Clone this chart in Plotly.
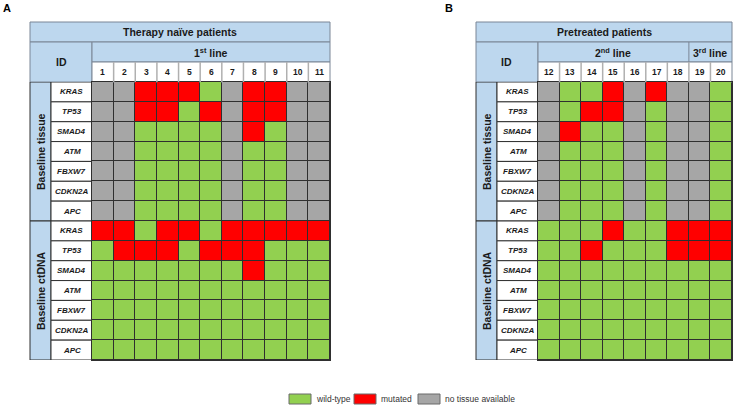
import plotly.graph_objects as go

# ---------------- data ----------------
genes = ["KRAS", "TP53", "SMAD4", "ATM", "FBXW7", "CDKN2A", "APC"]
status_labels = ["wild-type", "mutated", "no tissue available"]  # codes 0,1,2

patients_a = ["1", "2", "3", "4", "5", "6", "7", "8", "9", "10", "11"]
tissue_a = [
    [2, 2, 1, 1, 1, 0, 2, 1, 1, 2, 2],  # KRAS
    [2, 2, 1, 1, 0, 1, 2, 1, 1, 2, 2],  # TP53
    [2, 2, 0, 0, 0, 0, 2, 1, 0, 2, 2],  # SMAD4
    [2, 2, 0, 0, 0, 0, 2, 0, 0, 2, 2],  # ATM
    [2, 2, 0, 0, 0, 0, 2, 0, 0, 2, 2],  # FBXW7
    [2, 2, 0, 0, 0, 0, 2, 0, 0, 2, 2],  # CDKN2A
    [2, 2, 0, 0, 0, 0, 2, 0, 0, 2, 2],  # APC
]
ctdna_a = [
    [1, 1, 0, 1, 1, 0, 1, 1, 1, 1, 1],  # KRAS
    [0, 1, 1, 1, 0, 1, 1, 1, 0, 0, 0],  # TP53
    [0, 0, 0, 0, 0, 0, 0, 1, 0, 0, 0],  # SMAD4
    [0, 0, 0, 0, 0, 0, 0, 0, 0, 0, 0],  # ATM
    [0, 0, 0, 0, 0, 0, 0, 0, 0, 0, 0],  # FBXW7
    [0, 0, 0, 0, 0, 0, 0, 0, 0, 0, 0],  # CDKN2A
    [0, 0, 0, 0, 0, 0, 0, 0, 0, 0, 0],  # APC
]
lines_a = [("1<sup>st</sup> line", 0, 10)]

patients_b = ["12", "13", "14", "15", "16", "17", "18", "19", "20"]
tissue_b = [
    [2, 0, 0, 1, 2, 1, 2, 2, 0],  # KRAS
    [2, 0, 1, 1, 2, 0, 2, 2, 0],  # TP53
    [2, 1, 0, 0, 2, 0, 2, 2, 0],  # SMAD4
    [2, 0, 0, 0, 2, 0, 2, 2, 0],  # ATM
    [2, 0, 0, 0, 2, 0, 2, 2, 0],  # FBXW7
    [2, 0, 0, 0, 2, 0, 2, 2, 0],  # CDKN2A
    [2, 0, 0, 0, 2, 0, 2, 2, 0],  # APC
]
ctdna_b = [
    [0, 0, 0, 1, 0, 0, 1, 1, 1],  # KRAS
    [0, 0, 1, 0, 0, 0, 1, 1, 1],  # TP53
    [0, 0, 0, 0, 0, 0, 0, 0, 0],  # SMAD4
    [0, 0, 0, 0, 0, 0, 0, 0, 0],  # ATM
    [0, 0, 0, 0, 0, 0, 0, 0, 0],  # FBXW7
    [0, 0, 0, 0, 0, 0, 0, 0, 0],  # CDKN2A
    [0, 0, 0, 0, 0, 0, 0, 0, 0],  # APC
]
lines_b = [("2<sup>nd</sup> line", 0, 6), ("3<sup>rd</sup> line", 7, 8)]

sections = ["Baseline tissue", "Baseline ctDNA"]

# ---------------- style ----------------
W, H = 733, 406
GREEN, RED, GREY = "#92D050", "#FF0000", "#A6A6A6"
BLUE = "#BDD7EE"
GRID = "#2f2f2f"
HDR_LINE = "#7a8696"
TXT = "#1a1a1a"
FONT = "Arial, Liberation Sans, sans-serif"


def fx(x):
    return x / W


def fy(y):
    return 1 - y / H


colorscale = [[0, GREEN], [1 / 3, GREEN], [1 / 3, RED], [2 / 3, RED], [2 / 3, GREY], [1, GREY]]

panels = [
    dict(tag="A", tagx=6.5, title="Therapy naïve patients", left=30, sec=51, gcol=92, right=330,
         patients=patients_a, z=tissue_a + ctdna_a, lines=lines_a, ax=""),
    dict(tag="B", tagx=448.5, title="Pretreated patients", left=476, sec=497, gcol=538, right=732,
         patients=patients_b, z=tissue_b + ctdna_b, lines=lines_b, ax="2"),
]

Y_TITLE, Y_LINE, Y_NUM, Y_DATA, Y_END = 22, 42, 62, 82, 360

fig = go.Figure()
shapes = []
annotations = []


def label(x, y, text, size, xref="paper", yref="paper", angle=0, color=TXT, xanchor="center"):
    annotations.append(dict(x=x, y=y, xref=xref, yref=yref, text=text, showarrow=False,
                            xanchor=xanchor, yanchor="middle", textangle=angle,
                            font=dict(size=size, color=color, family=FONT)))


for p in panels:
    n = len(p["patients"])
    nrows = len(p["z"])
    xa, ya = "x" + p["ax"], "y" + p["ax"]
    fig.add_trace(go.Heatmap(
        z=p["z"], x=list(range(n)), y=list(range(nrows)),
        colorscale=colorscale, zmin=0, zmax=2, showscale=False,
        xgap=1, ygap=1, xaxis=xa, yaxis=ya,
        customdata=[[status_labels[v] for v in row] for row in p["z"]],
        hovertemplate="%{customdata}<extra></extra>",
    ))
    axis_common = dict(showticklabels=False, showgrid=False, zeroline=False, ticks="",
                       showline=True, mirror=True, linecolor=GRID, linewidth=1, fixedrange=True)
    fig.update_layout(**{
        "xaxis" + p["ax"]: dict(domain=[fx(p["gcol"]), min(1, fx(p["right"]))], range=[-0.5, n - 0.5],
                                anchor=ya, **axis_common),
        "yaxis" + p["ax"]: dict(domain=[fy(Y_END), fy(Y_DATA)], range=[nrows - 0.5, -0.5],
                                anchor=xa, **axis_common),
    })

    def rect(x0, y0, x1, y1, fill, line=HDR_LINE, xref="paper", yref="paper"):
        shapes.append(dict(type="rect", xref=xref, yref=yref, x0=x0, x1=x1, y0=y0, y1=y1,
                           fillcolor=fill, line=dict(color=line, width=1), layer="below"))

    L, S, G, R = fx(p["left"]), fx(p["sec"]), fx(p["gcol"]), fx(p["right"])
    # title row
    rect(L, fy(Y_LINE), R, fy(Y_TITLE), BLUE)
    label((L + R) / 2, fy((Y_TITLE + Y_LINE) / 2), "<b>%s</b>" % p["title"], 10.5)
    # ID cell
    rect(L, fy(Y_DATA), G, fy(Y_LINE), BLUE)
    label((L + G) / 2, fy((Y_LINE + Y_DATA) / 2), "<b>ID</b>", 10.5)
    # line row
    rect(G, fy(Y_NUM), R, fy(Y_LINE), BLUE)
    for (lab, a, b) in p["lines"]:
        label((a + b) / 2, fy((Y_LINE + Y_NUM) / 2), "<b>%s</b>" % lab, 10.5, xref=xa)
        if a > 0:
            shapes.append(dict(type="line", xref=xa, yref="paper", x0=a - 0.5, x1=a - 0.5,
                               y0=fy(Y_NUM), y1=fy(Y_LINE), line=dict(color=HDR_LINE, width=1)))
    # number row
    rect(G, fy(Y_DATA), R, fy(Y_NUM), "white")
    for i, pid in enumerate(p["patients"]):
        label(i, fy((Y_NUM + Y_DATA) / 2), "<b>%s</b>" % pid, 8.5, xref=xa)
        if i > 0:
            shapes.append(dict(type="line", xref=xa, yref="paper", x0=i - 0.5, x1=i - 0.5,
                               y0=fy(Y_DATA), y1=fy(Y_NUM), line=dict(color="#b0b0b0", width=1.5)))
    # section column + gene column
    ng = len(genes)
    for si, sec in enumerate(sections):
        r0, r1 = si * ng - 0.5, (si + 1) * ng - 0.5
        rect(L, r0, S, r1, BLUE, line=GRID, yref=ya)
        label((L + S) / 2, (r0 + r1) / 2, "<b>%s</b>" % sec, 10.5, yref=ya, angle=-90)
        for gi, g in enumerate(genes):
            r = si * ng + gi
            rect(S, r - 0.5, G, r + 0.5, "white", line=GRID, yref=ya)
            label((S + G) / 2, r, "<b><i>%s</i></b>" % g, 8, yref=ya)
    # panel tag
    label(fx(p["tagx"]), fy(8), "<b>%s</b>" % p["tag"], 11, color="black")

# legend
legend_colors = [GREEN, RED, GREY]
legend_x = [289, 354, 418]
for lab, col, lx in zip(status_labels, legend_colors, legend_x):
    shapes.append(dict(type="rect", xref="paper", yref="paper", x0=fx(lx), x1=fx(lx + 22),
                       y0=fy(404), y1=fy(394), fillcolor=col, line=dict(color="#6a6a6a", width=1)))
    label(fx(lx + 25), fy(399), lab, 8.5, color="#333333", xanchor="left")

fig.update_layout(
    width=W, height=H, margin=dict(l=0, r=0, t=0, b=0),
    paper_bgcolor="white", plot_bgcolor=GRID,
    shapes=shapes, annotations=annotations, showlegend=False,
    font=dict(family=FONT),
)

fig.write_html("out.html", config={"displayModeBar": False},
               post_script="document.body.style.margin='0';document.body.style.overflow='hidden';")
